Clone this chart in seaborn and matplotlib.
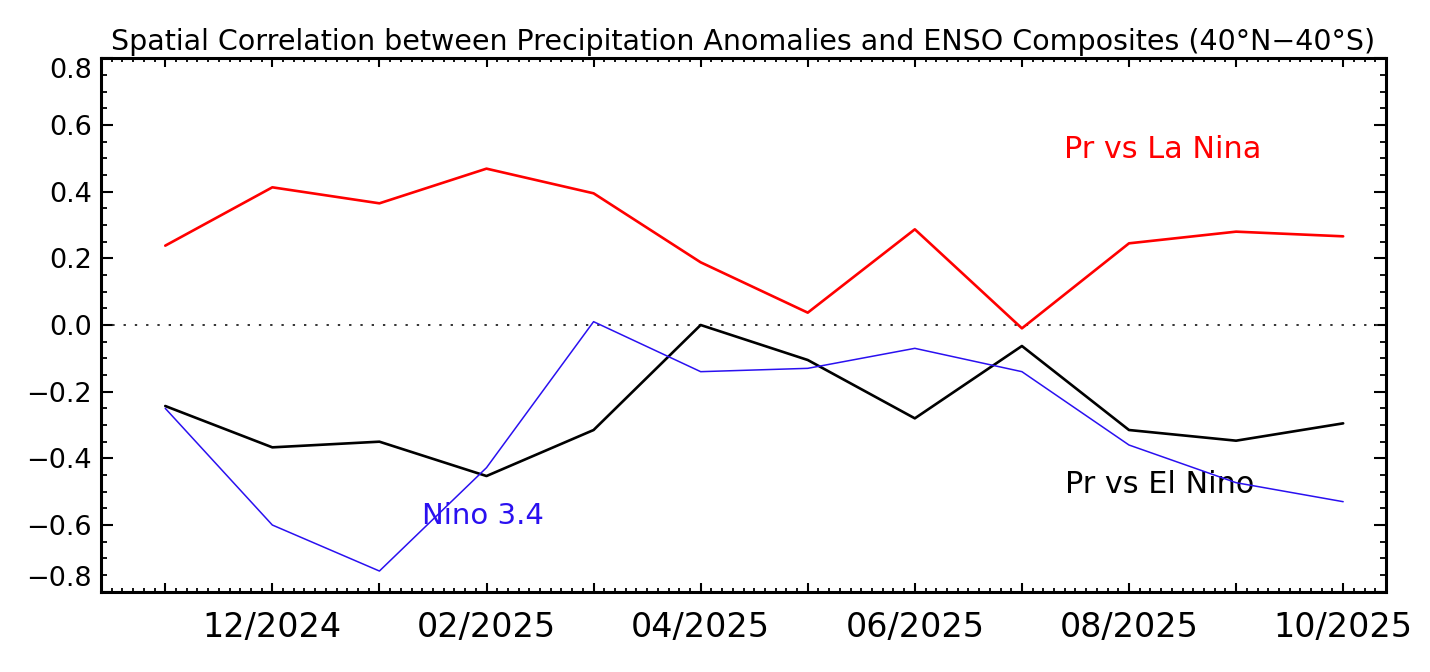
import numpy as np
import pandas as pd
import matplotlib
matplotlib.use("Agg")
import matplotlib.pyplot as plt
import seaborn as sns
from matplotlib.ticker import MultipleLocator, FixedLocator

months = ["11/2024", "12/2024", "01/2025", "02/2025", "03/2025", "04/2025",
          "05/2025", "06/2025", "07/2025", "08/2025", "09/2025", "10/2025"]
pr_vs_la_nina = [0.238, 0.413, 0.365, 0.469, 0.395, 0.188,
                 0.037, 0.287, -0.010, 0.245, 0.280, 0.266]
pr_vs_el_nino = [-0.243, -0.367, -0.350, -0.453, -0.315, 0.000,
                 -0.105, -0.280, -0.063, -0.315, -0.347, -0.295]
nino34 = [-0.250, -0.600, -0.738, -0.428, 0.010, -0.140,
          -0.130, -0.070, -0.140, -0.360, -0.473, -0.530]
tick_labels = ["", "12/2024", "", "02/2025", "", "04/2025",
               "", "06/2025", "", "08/2025", "", "10/2025"]
y_ticks = [-0.8, -0.6, -0.4, -0.2, 0.0, 0.2, 0.4, 0.6, 0.8]
title = "Spatial Correlation between Precipitation Anomalies and ENSO Composites (40°N\u221240°S)"

sns.set_style("ticks")
plt.rcParams["font.family"] = ["DejaVu Sans"]
plt.rcParams["text.color"] = "black"
plt.rcParams["xtick.color"] = "black"
plt.rcParams["ytick.color"] = "black"
plt.rcParams["axes.labelcolor"] = "black"

idx = np.arange(len(months))
df = pd.DataFrame({"idx": idx, "la": pr_vs_la_nina, "el": pr_vs_el_nino, "nino": nino34})

fig = plt.figure(figsize=(14.3, 6.72), dpi=100)
ax = fig.add_axes([101/1430, 1 - 591.7/672, (1386 - 101)/1430, (591.7 - 58.3)/672])

ax.axhline(0, color="#333333", lw=1.4, linestyle=(0, (1.2, 4.6)), zorder=1)
sns.lineplot(data=df, x="idx", y="la", ax=ax, color="#ff0000", lw=1.9, zorder=3)
sns.lineplot(data=df, x="idx", y="el", ax=ax, color="#000000", lw=1.9, zorder=3)
sns.lineplot(data=df, x="idx", y="nino", ax=ax, color="#2a10f0", lw=1.1, zorder=4)

ax.set_xlim(-0.6, 11.4)
ax.set_ylim(-0.8, 0.8)
ax.set_xlabel("")
ax.set_ylabel("")

ax.xaxis.set_major_locator(FixedLocator(idx))
ax.set_xticklabels(tick_labels)
ax.xaxis.set_minor_locator(MultipleLocator(0.1))
ax.yaxis.set_major_locator(FixedLocator(y_ticks))
ax.set_yticklabels([f"{v:.1f}".replace("-", "\u2212") for v in y_ticks])
ax.yaxis.set_minor_locator(MultipleLocator(0.05))

ax.tick_params(axis="x", which="major", direction="in", length=6.5, width=1.5,
               top=True, bottom=True, labelsize=24, pad=14, colors="black")
ax.tick_params(axis="x", which="minor", direction="in", length=3, width=1.3,
               top=True, bottom=True, colors="black")
ax.tick_params(axis="y", which="major", direction="in", length=8.6, width=1.5,
               left=True, right=True, labelsize=19.5, pad=6.5, colors="black")
ax.tick_params(axis="y", which="minor", direction="in", length=4.3, width=1.3,
               left=True, right=True, colors="black")

labs = ax.get_yticklabels()
labs[0].set_va("bottom")
labs[-1].set_va("top")

for s in ax.spines.values():
    s.set_linewidth(2.2)
    s.set_color("black")
    s.set_visible(True)

ax.set_title(title, fontsize=20.5, pad=6, color="black")

ax.text(8.395, 0.525, "Pr vs La Nina", color="#ff0000", fontsize=21.8, ha="left", va="center")
ax.text(8.405, -0.477, "Pr vs El Nino", color="#000000", fontsize=21.8, ha="left", va="center")
ax.text(2.396, -0.573, "Nino 3.4", color="#2a10f0", fontsize=21, ha="left", va="center")

fig.savefig("out.png", dpi=100)
